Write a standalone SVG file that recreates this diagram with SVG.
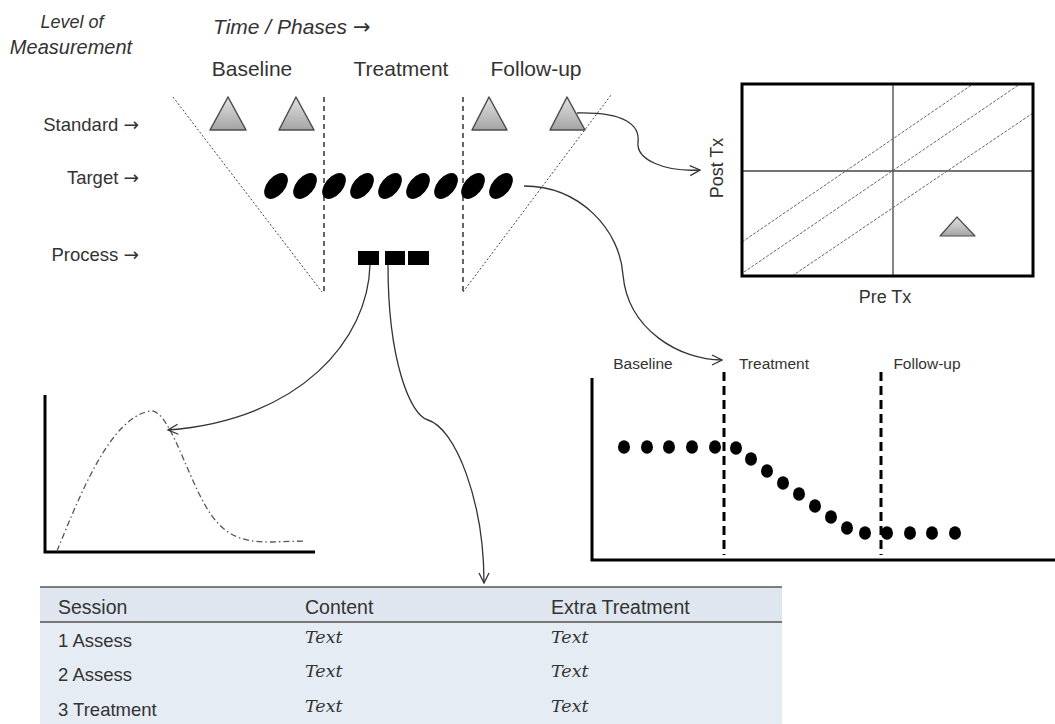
<svg xmlns="http://www.w3.org/2000/svg" width="1055" height="724" viewBox="0 0 1055 724">
<defs>
<linearGradient id="tri" x1="0" y1="0" x2="0" y2="1">
<stop offset="0" stop-color="#e2e2e2"/>
<stop offset="1" stop-color="#a4a4a4"/>
</linearGradient>
<marker id="arr" viewBox="0 0 12 12" refX="11" refY="6" markerWidth="12" markerHeight="12" markerUnits="userSpaceOnUse" orient="auto">
<path d="M1,1 L11,6 L1,11" fill="none" stroke="#333" stroke-width="1.3"/>
</marker>
</defs>
<style>
text{font-family:"Liberation Sans",Arial,sans-serif;fill:#333}
.it{font-style:italic}
.ph{font-size:21px}
.lv{font-size:18.5px}
.ar{font-family:"DejaVu Sans",sans-serif;font-style:normal}
.sm{font-size:15.5px}
.tb{font-size:19.5px}
.tx{font-family:"DejaVu Serif","Liberation Serif",serif;font-style:italic;font-size:17.5px}
.tri{fill:url(#tri);stroke:#4d4d4d;stroke-width:1.5;stroke-linejoin:round}
.dot{stroke:#444;stroke-width:1;stroke-dasharray:2 2;fill:none}
.vd{stroke:#333;stroke-width:1.5;stroke-dasharray:5 4;fill:none}
.conn{fill:none;stroke:#333;stroke-width:1.3;marker-end:url(#arr)}
.blk{fill:#000}
.ax{stroke:#000;stroke-width:3;fill:none}
</style>
<rect width="1055" height="724" fill="#fff"/>

<g id="labels">
<text class="it" x="72" y="28" text-anchor="middle" style="font-size:18px">Level of</text>
<text class="it" x="71" y="54" text-anchor="middle" style="font-size:20px">Measurement</text>
<text class="it" x="213" y="34" style="font-size:21px">Time / Phases <tspan class="ar">→</tspan></text>
<text class="ph" x="252" y="76" text-anchor="middle">Baseline</text>
<text class="ph" x="401" y="76" text-anchor="middle">Treatment</text>
<text class="ph" x="536" y="76" text-anchor="middle">Follow-up</text>
<text class="lv" x="139" y="131" text-anchor="end">Standard <tspan class="ar">→</tspan></text>
<text class="lv" x="139" y="184" text-anchor="end">Target <tspan class="ar">→</tspan></text>
<text class="lv" x="139" y="261" text-anchor="end">Process <tspan class="ar">→</tspan></text>
</g>

<g id="funnel">
<line class="dot" x1="173" y1="97" x2="322" y2="292"/>
<line class="vd" x1="324" y1="97" x2="324" y2="292"/>
<line class="vd" x1="463" y1="97" x2="463" y2="292"/>
<line class="dot" x1="463" y1="292" x2="611" y2="95"/>
</g>

<g id="standard">
<polygon class="tri" points="228,97 210,130 246,130"/>
<polygon class="tri" points="296,97 279,130 314,130"/>
<polygon class="tri" points="489,97 472,130 507,130"/>
<polygon class="tri" points="567,97 550,130 585,130"/>
</g>

<g id="target">
<ellipse class="blk" cx="276" cy="186" rx="15" ry="9" transform="rotate(-50 276 186)"/>
<ellipse class="blk" cx="305" cy="186" rx="15" ry="9" transform="rotate(-50 305 186)"/>
<ellipse class="blk" cx="334" cy="186" rx="15" ry="9" transform="rotate(-50 334 186)"/>
<ellipse class="blk" cx="362" cy="186" rx="15" ry="9" transform="rotate(-50 362 186)"/>
<ellipse class="blk" cx="390" cy="186" rx="15" ry="9" transform="rotate(-50 390 186)"/>
<ellipse class="blk" cx="418" cy="186" rx="15" ry="9" transform="rotate(-50 418 186)"/>
<ellipse class="blk" cx="446" cy="186" rx="15" ry="9" transform="rotate(-50 446 186)"/>
<ellipse class="blk" cx="473" cy="186" rx="15" ry="9" transform="rotate(-50 473 186)"/>
<ellipse class="blk" cx="501" cy="186" rx="15" ry="9" transform="rotate(-50 501 186)"/>
</g>

<g id="process">
<rect class="blk" x="358" y="251" width="21" height="14"/>
<rect class="blk" x="385" y="251" width="20" height="14"/>
<rect class="blk" x="408" y="251" width="21" height="14"/>
</g>

<g id="scatter">
<line x1="893" y1="84" x2="893" y2="276" stroke="#444" stroke-width="1.3"/>
<line x1="742" y1="171" x2="1033" y2="171" stroke="#444" stroke-width="1.3"/>
<line class="dot" x1="742" y1="242" x2="973" y2="84" style="stroke-dasharray:3 1.5;stroke:#666"/>
<line class="dot" x1="744" y1="272" x2="1020" y2="84" style="stroke-dasharray:3 1.5;stroke:#666"/>
<line class="dot" x1="792" y1="276" x2="1033" y2="113" style="stroke-dasharray:3 1.5;stroke:#666"/>
<rect x="742" y="84" width="291" height="192" fill="none" stroke="#000" stroke-width="3"/>
<polygon class="tri" points="957,217 940,236 975,236" style="stroke-width:1.2"/>
<text x="0" y="0" transform="translate(723,168) rotate(-90)" text-anchor="middle" style="font-size:18px">Post Tx</text>
<text x="885" y="303" text-anchor="middle" style="font-size:18px">Pre Tx</text>
</g>

<g id="process-curve">
<path class="ax" d="M45,395 L45,552 L315,552"/>
<path d="M57,551 C80,495 110,418 150,411 C168,408 185,470 205,505 C222,535 240,542 270,542 L305,541" fill="none" stroke="#555" stroke-width="1.3" stroke-dasharray="6 3 1.5 3"/>
</g>

<g id="phase-chart">
<path class="ax" d="M592,378 L592,560 L1055,560"/>
<line x1="724" y1="372" x2="724" y2="555" stroke="#000" stroke-width="3" stroke-dasharray="9 5"/>
<line x1="881" y1="372" x2="881" y2="555" stroke="#000" stroke-width="3" stroke-dasharray="9 5"/>
<text class="sm" x="643" y="369" text-anchor="middle">Baseline</text>
<text class="sm" x="774" y="369" text-anchor="middle">Treatment</text>
<text class="sm" x="927" y="369" text-anchor="middle">Follow-up</text>
<g class="blk">
<ellipse cx="624" cy="447" rx="6" ry="6.8"/>
<ellipse cx="647" cy="447" rx="6" ry="6.8"/>
<ellipse cx="669" cy="447" rx="6" ry="6.8"/>
<ellipse cx="692" cy="447" rx="6" ry="6.8"/>
<ellipse cx="715" cy="447" rx="6" ry="6.8"/>
<ellipse cx="736" cy="448" rx="6" ry="6.8"/>
<ellipse cx="751" cy="459" rx="6" ry="6.8"/>
<ellipse cx="767" cy="471" rx="6" ry="6.8"/>
<ellipse cx="783" cy="483" rx="6" ry="6.8"/>
<ellipse cx="799" cy="494" rx="6" ry="6.8"/>
<ellipse cx="815" cy="506" rx="6" ry="6.8"/>
<ellipse cx="831" cy="517" rx="6" ry="6.8"/>
<ellipse cx="847" cy="528" rx="6" ry="6.8"/>
<ellipse cx="865" cy="533" rx="6" ry="6.8"/>
<ellipse cx="887" cy="533" rx="6" ry="6.8"/>
<ellipse cx="910" cy="533" rx="6" ry="6.8"/>
<ellipse cx="932" cy="533" rx="6" ry="6.8"/>
<ellipse cx="955" cy="533" rx="6" ry="6.8"/>
</g>
</g>

<g id="session-table">
<rect x="40" y="587" width="742" height="137" fill="#e6ecf4"/>
<rect x="40" y="587" width="742" height="35" fill="#dfe6ef"/>
<line x1="40" y1="587" x2="782" y2="587" stroke="#555" stroke-width="1.5"/>
<line x1="40" y1="622" x2="782" y2="622" stroke="#777" stroke-width="2"/>
<text class="tb" x="58" y="614">Session</text>
<text class="tb" x="305" y="614">Content</text>
<text class="tb" x="551" y="614">Extra Treatment</text>
<text class="tb" x="58" y="647" style="font-size:18.5px">1 Assess</text>
<text class="tb" x="58" y="681" style="font-size:18.5px">2 Assess</text>
<text class="tb" x="58" y="716" style="font-size:18.5px">3 Treatment</text>
<text class="tx" x="305" y="643">Text</text>
<text class="tx" x="551" y="643">Text</text>
<text class="tx" x="305" y="677">Text</text>
<text class="tx" x="551" y="677">Text</text>
<text class="tx" x="305" y="712">Text</text>
<text class="tx" x="551" y="712">Text</text>
</g>

<g id="connectors">
<path class="conn" d="M577,113 C625,112 640,125 638,142 C636,160 665,172 700,170"/>
<path class="conn" d="M524,186 C580,186 620,230 623,275 C628,330 680,360 722,360"/>
<path class="conn" d="M370,265 C368,340 300,420 168,430"/>
<path class="conn" d="M388,265 C388,360 410,415 428,420 C455,428 484,500 484,583"/>
</g>
</svg>
